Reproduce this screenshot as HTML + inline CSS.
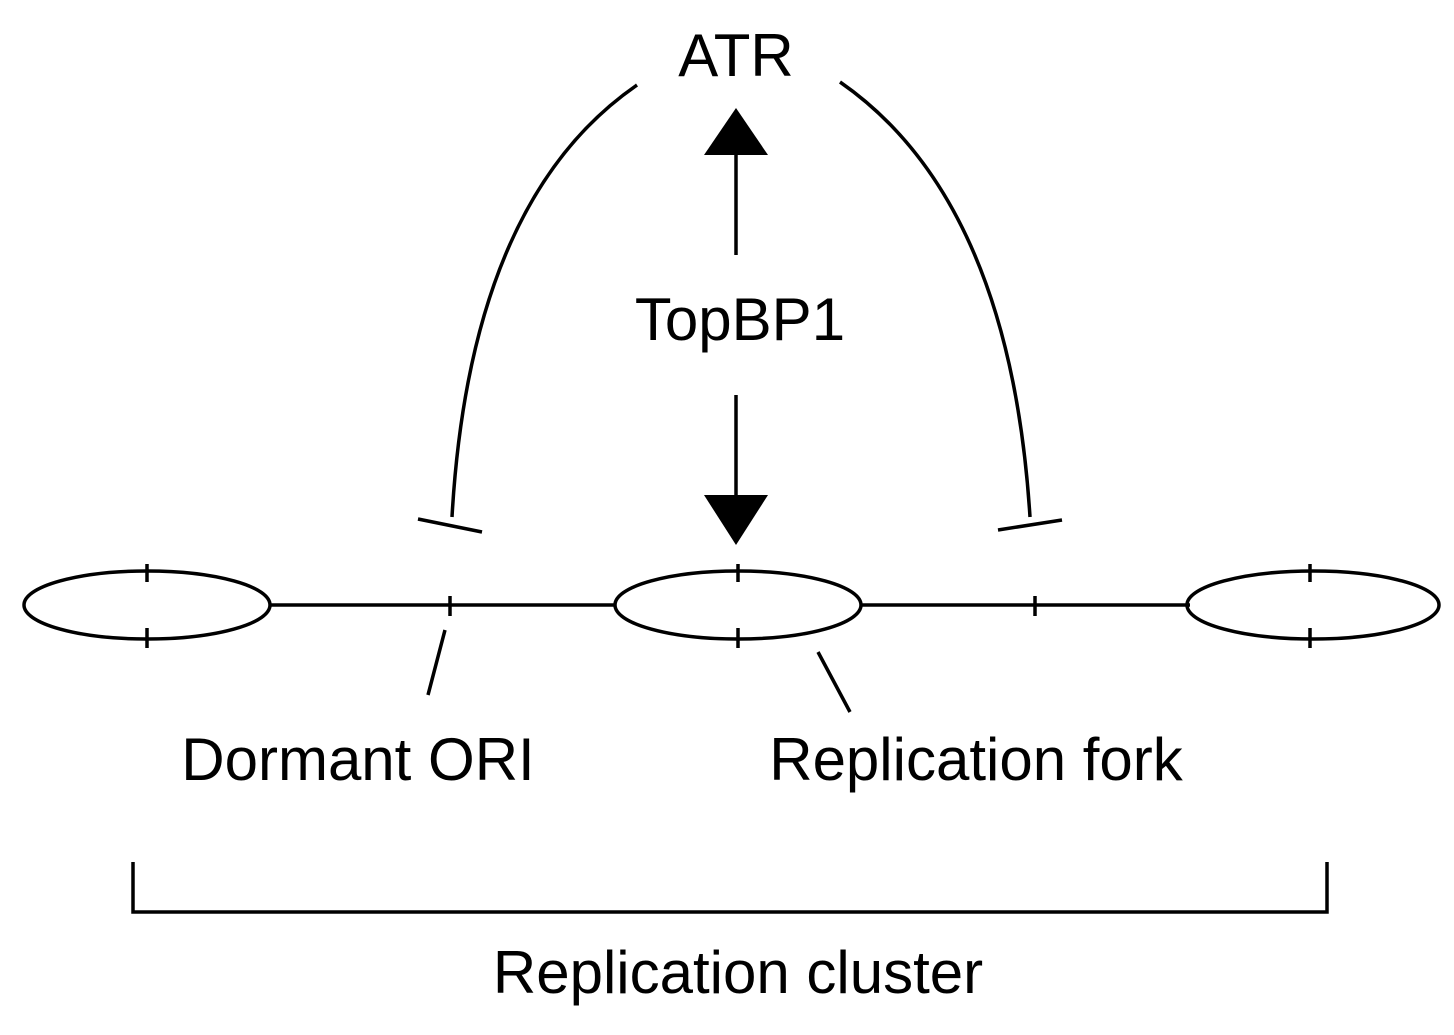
<!DOCTYPE html>
<html><head><meta charset="utf-8"><style>html,body{margin:0;padding:0;background:#fff}svg{display:block}</style></head>
<body>
<svg width="1454" height="1035" viewBox="0 0 1454 1035" xmlns="http://www.w3.org/2000/svg">
<g fill="none" stroke="#000" stroke-width="3.5">
<path d="M637,85 Q470,200 452,517"/>
<path d="M418,519 L482,532"/>
<path d="M840,82 Q1010,200 1030,517"/>
<path d="M998,530 L1062,520"/>
<path d="M736,255 L736,150"/>
<path d="M736,395 L736,500"/>
<path d="M270,605 L615,605 M862,605 L1190,605"/>
<ellipse cx="147" cy="605" rx="123" ry="34"/>
<ellipse cx="738" cy="605" rx="123" ry="34"/>
<ellipse cx="1313" cy="605" rx="126" ry="34"/>
<path d="M147,564 L147,582 M147,628 L147,648 M738,564 L738,582 M738,628 L738,648 M1310,564 L1310,582 M1310,628 L1310,648 M450,596 L450,616 M1035,596 L1035,616"/>
<path d="M445,630 L428,695 M818,652 L850,712"/>
<path d="M133,862 L133,912 L1327,912 L1327,862"/>
</g>
<polygon points="736,108 704,155 768,155" fill="#000"/>
<polygon points="736,545 704,495 768,495" fill="#000"/>
<g font-family="Liberation Sans, sans-serif" font-size="60" fill="#000" text-anchor="middle">
<text x="736" y="76">ATR</text>
<text x="740" y="340">TopBP1</text>
<text x="358" y="780">Dormant ORI</text>
<text x="976" y="780">Replication fork</text>
<text x="738" y="993">Replication cluster</text>
</g>
</svg>
</body></html>
